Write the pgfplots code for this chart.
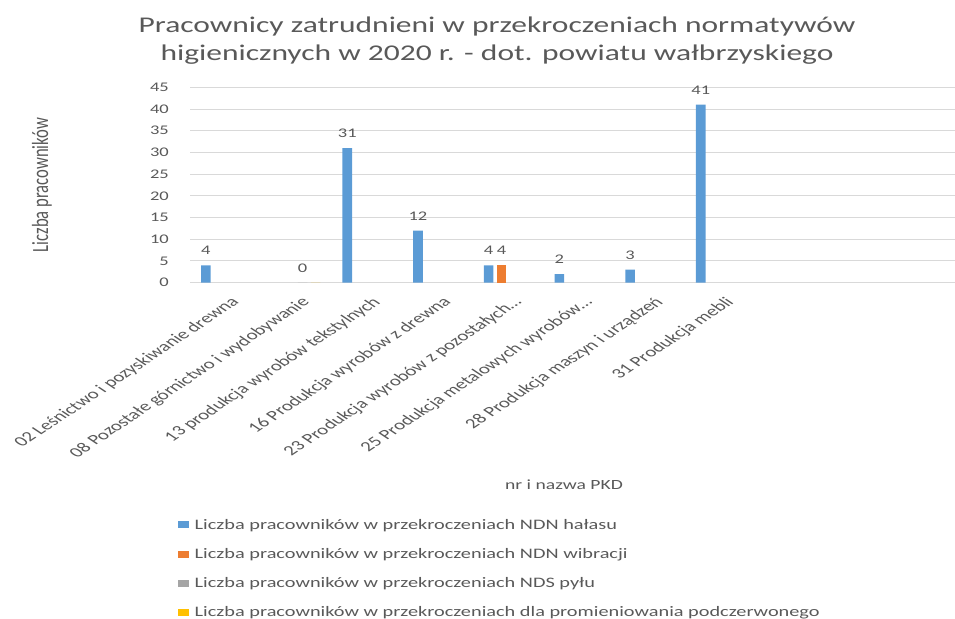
\documentclass[border=0pt]{standalone}
\usepackage{pgfplots}
\pgfplotsset{compat=1.18}
\usepackage{fontspec}
\setmainfont{Carlito}[FakeStretch=1.4]
\newfontfamily\plainfont{Carlito}
\definecolor{txt}{HTML}{595959}
\definecolor{grd}{HTML}{D9D9D9}
\definecolor{c1}{HTML}{5B9BD5}
\definecolor{c2}{HTML}{ED7D31}
\definecolor{c3}{HTML}{A5A5A5}
\definecolor{c4}{HTML}{FFC000}
\pgfplotsset{sqlegend/.style={legend image code/.code={\path[##1,draw=none] (0bp,-3.5bp) rectangle (10.5bp,3.5bp); \path (16.5bp,0bp);}}}
\begin{document}
\begin{tikzpicture}[x=1bp,y=1bp]
\path[use as bounding box] (0,0) rectangle (955,619);
\node[txt, align=center, font=\fontsize{22.5bp}{28bp}\selectfont] at (497,578) {Pracownicy zatrudnieni w przekroczeniach normatywów\\higienicznych w 2020 r. - dot. powiatu wałbrzyskiego};
\node[txt, font=\fontsize{14bp}{17bp}\selectfont] at (564,134) {nr i nazwa PKD};
\node[txt, font=\plainfont\fontsize{16.6bp}{19bp}\selectfont, cm={0,1,-1.4,0,(0,0)}] at (42,434) {Liczba pracowników};
\begin{axis}[
  at={(190bp,336.3bp)}, anchor=south west,
  scale only axis, width=765bp, height=195.4bp,
  xmin=-0.5, xmax=10.32, ymin=0, ymax=45,
  ytick={0,5,...,45},
  xtick={0,1,2,3,4,5,6,7},
  xticklabels={02 Leśnictwo i pozyskiwanie drewna,08 Pozostałe górnictwo i wydobywanie,13 produkcja wyrobów tekstylnych,16 Produkcja wyrobów z drewna,23 Produkcja wyrobów z pozostałych…,25 Produkcja metalowych wyrobów…,28 Produkcja maszyn i urządzeń,31 Produkcja mebli},
  axis line style={draw=none},
  major tick length=0pt,
  ymajorgrids, grid style={grd, line width=1bp},
  /pgf/number format/assume math mode=true,
  yticklabel style={anchor=east, inner sep=0pt, xshift=-21bp, text=txt, font=\fontsize{13.2bp}{16bp}\selectfont},
  xticklabel style={anchor=north east, inner sep=0pt, xshift=4bp, yshift=-13bp, cm={1.0607,0.7071,-1.0607,0.7071,(0,0)}, text=txt, font=\plainfont\fontsize{14bp}{16bp}\selectfont},
  ybar=3.4bp, bar width=9.6bp,
  every node near coord/.append style={anchor=base, inner sep=0pt, yshift=10.5bp, text=txt, font=\fontsize{13.2bp}{16bp}\selectfont},
  legend style={at={(-0.0157,-1.209)}, anchor=north west, draw=none, fill=none, inner sep=0pt, row sep=17.6bp, text=txt, font=\fontsize{14.5bp}{17bp}\selectfont, nodes={inner sep=0pt}},
  legend cell align=left,
]
\addplot[fill=c1, draw=none, sqlegend, nodes near coords] coordinates {(0,4) (2,31) (3,12) (4,4) (5,2) (6,3) (7,41)};
\addplot[fill=c2, draw=none, sqlegend, nodes near coords] coordinates {(4,4)};
\addplot[fill=c3, draw=none, sqlegend, nodes near coords] coordinates {(1,0)};
\addplot[fill=c4, draw=none, sqlegend] coordinates {(1,0)};
\legend{Liczba pracowników w przekroczeniach NDN hałasu,Liczba pracowników w przekroczeniach NDN wibracji,Liczba pracowników w przekroczeniach NDS pyłu,Liczba pracowników w przekroczeniach dla promieniowania podczerwonego}
\end{axis}
\end{tikzpicture}
\end{document}
